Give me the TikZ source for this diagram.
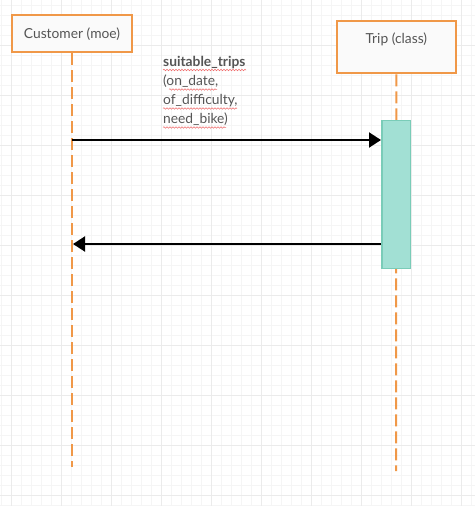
\documentclass[tikz,border=0pt]{standalone}
\usepackage{fontspec}
\setmainfont{Lato}
\usetikzlibrary{arrows.meta,decorations.pathmorphing}
\definecolor{lineorange}{RGB}{240,152,72}
\definecolor{boxfill}{RGB}{250,250,250}
\definecolor{actfill}{RGB}{162,224,212}
\definecolor{actdraw}{RGB}{122,204,184}
\definecolor{txt}{RGB}{85,85,85}
\definecolor{gridlight}{RGB}{245,245,245}
\definecolor{griddark}{RGB}{235,235,235}
\definecolor{spell}{RGB}{240,110,110}
\tikzset{
  objbox/.style={draw=lineorange, line width=2pt, fill=boxfill, inner sep=0pt},
  lifeline/.style={draw=lineorange, line width=2pt, dash pattern=on 12pt off 5pt},
  actbox/.style={draw=actdraw, line width=1.5pt, fill=actfill, inner sep=0pt},
  msg/.style={draw=black, line width=2pt, -{Triangle[length=12pt,width=15pt]}},
  lbl/.style={anchor=base west, inner sep=0pt, text=txt, font=\fontsize{13.8}{15}\selectfont},
  wavy/.style={draw=spell, line width=0.5pt, decorate, decoration={snake, amplitude=0.8pt, segment length=3pt}}
}
\begin{document}
\begin{tikzpicture}[x=1pt,y=-1pt]
\useasboundingbox (0,0) rectangle (475,506);
\fill[white] (0,0) rectangle (475,506);
% grid
\foreach \x in {1.7,11.7,...,475} {\draw[gridlight, line width=0.6pt] (\x,0) -- (\x,506);}
\foreach \y in {5,15,...,506} {\draw[gridlight, line width=0.6pt] (0,\y) -- (475,\y);}
\foreach \x in {11.7,61.7,...,475} {\draw[griddark, line width=0.8pt] (\x,0) -- (\x,506);}
\foreach \y in {45,95,...,506} {\draw[griddark, line width=0.8pt] (0,\y) -- (475,\y);}

% lifelines
\coordinate (cbot) at (72,467);
\coordinate (tbot) at (396,471);
\node[objbox, minimum width=120pt, minimum height=37pt] (cust) at (72,33.7) {};
\node[text=txt, font=\fontsize{13.8}{15}\selectfont] (custlbl) at (72,34) {Customer (moe)};
\node[objbox, minimum width=119pt, minimum height=52.6pt] (trip) at (396.3,47) {};
\node[text=txt, font=\fontsize{13.8}{15}\selectfont] (triplbl) at (396.3,39) {Trip (class)};

\draw[lifeline] (cust.south) -- (cbot);
\draw[lifeline] (trip.south) -- (tbot);

% activation
\node[actbox, minimum width=28.5pt, minimum height=148pt] (act) at (396,194.7) {};

% label
\node[lbl, font=\fontsize{13.8}{15}\selectfont\bfseries] (l1) at (163,66) {suitable\_trips};
\node[lbl] (l2) at (163,85.5) {(on\_date,};
\node[lbl] (l3) at (163,104.5) {of\_difficulty,};
\node[lbl] (l4) at (163,123.5) {need\_bike)};
\draw[wavy] (163,70) -- (246,70);
\draw[wavy] (169,89.5) -- (217,89.5);
\draw[wavy] (163,108.5) -- (237,108.5);
\draw[wavy] (163,127.5) -- (226,127.5);

% messages
\coordinate (m1s) at (72,140);
\coordinate (m2e) at (73,244);
\draw[msg] (m1s) -- (act.west |- m1s);
\draw[msg] (act.west |- m2e) -- (m2e);
\end{tikzpicture}
\end{document}
